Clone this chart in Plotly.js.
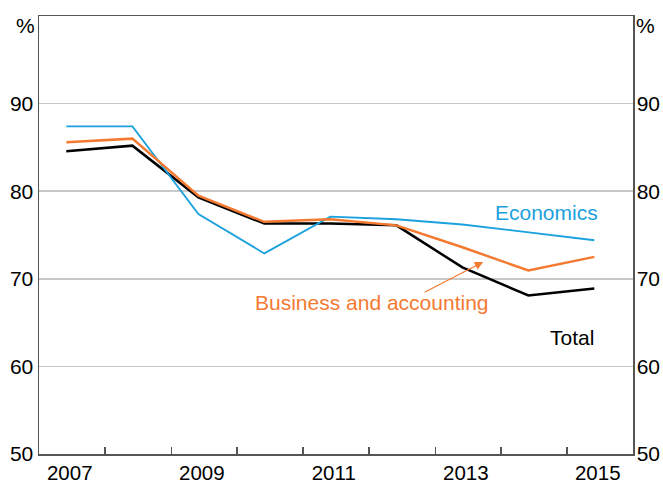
<!DOCTYPE html>
<html>
<head>
<meta charset="utf-8">
<script src="https://cdn.plot.ly/plotly-3.0.1.min.js"></script>
<style>html,body{margin:0;padding:0;background:#fff;}#chart{width:663px;height:485px;}</style>
</head>
<body>
<div id="chart"></div>
<script>
// Data (observations dated mid-year)
var dates = ['2007-06-01','2008-06-01','2009-06-01','2010-06-01','2011-06-01','2012-06-01','2013-06-01','2014-06-01','2015-06-01'];
var economics = [87.4, 87.4, 77.4, 72.9, 77.1, 76.8, 76.2, 75.3, 74.4];
var business = [85.6, 86.0, 79.5, 76.5, 76.8, 76.1, 73.6, 70.95, 72.5];
var total = [84.55, 85.2, 79.3, 76.3, 76.3, 76.1, 71.3, 68.1, 68.9];

var yearLabels = ['2007','2009','2011','2013','2015'];
var yearLabelPos = ['2007-06-20','2009-06-20','2011-06-20','2013-06-20','2015-06-20'];
var yearBoundaries = ['2008-01-01','2009-01-01','2010-01-01','2011-01-01','2012-01-01','2013-01-01','2014-01-01','2015-01-01'];
var yTicks = [50, 60, 70, 80, 90];

var FONT = 'Liberation Sans, Arial, sans-serif';
var FS = 21;
var BLUE = '#1ba1dd';
var ORANGE = '#f47a32';

var traces = [
  {x: dates, y: total, type: 'scatter', mode: 'lines', line: {color: '#000000', width: 2.5}, hoverinfo: 'skip'},
  {x: dates, y: economics, type: 'scatter', mode: 'lines', line: {color: BLUE, width: 1.8}, hoverinfo: 'skip'},
  {x: dates, y: business, type: 'scatter', mode: 'lines', line: {color: ORANGE, width: 2.5}, hoverinfo: 'skip'},
  {x: dates, y: total, type: 'scatter', mode: 'lines', yaxis: 'y2', opacity: 0, line: {width: 0}, hoverinfo: 'skip'}
];

var layout = {
  width: 663, height: 485,
  margin: {l: 38.5, r: 30, t: 16, b: 31},
  paper_bgcolor: '#ffffff', plot_bgcolor: '#ffffff',
  showlegend: false,
  font: {family: FONT, size: FS, color: '#000'},
  xaxis: {
    type: 'date',
    range: ['2007-01-01', '2016-01-01'],
    tickmode: 'array', tickvals: yearLabelPos, ticktext: yearLabels,
    ticks: '', showgrid: false, zeroline: false, ticklabelstandoff: 0,
    showline: true, linecolor: '#555', linewidth: 1.5, mirror: true,
    tickfont: {family: FONT, size: 20.5, color: '#000'},
    minor: {tickmode: 'array', tickvals: yearBoundaries, ticks: 'inside', ticklen: 7, tickcolor: '#555', tickwidth: 1.2, showgrid: false}
  },
  yaxis: {
    range: [50, 100], tickmode: 'array', tickvals: yTicks,
    ticks: '', showgrid: true, gridcolor: '#c8c8c8', gridwidth: 1.5, zeroline: false,
    showline: true, linecolor: '#555', linewidth: 1.5,
    tickfont: {family: FONT, size: FS, color: '#000'}
  },
  yaxis2: {
    overlaying: 'y', side: 'right',
    range: [50, 100], tickmode: 'array', tickvals: yTicks,
    ticks: '', showgrid: false, zeroline: false, ticklabelstandoff: -2,
    showline: true, linecolor: '#555', linewidth: 1.5,
    tickfont: {family: FONT, size: FS, color: '#000'}
  },
  annotations: [
    {xref: 'paper', yref: 'y', x: 0, y: 98.9, xanchor: 'right', yanchor: 'middle', xshift: -2, text: '%', showarrow: false, font: {family: FONT, size: FS, color: '#000'}},
    {xref: 'paper', yref: 'y', x: 1, y: 98.9, xanchor: 'left', yanchor: 'middle', xshift: 1, text: '%', showarrow: false, font: {family: FONT, size: FS, color: '#000'}},
    {xref: 'paper', yref: 'paper', x: 0.855, y: 0.5525, xanchor: 'center', yanchor: 'middle', text: 'Economics', showarrow: false, font: {family: FONT, size: FS, color: BLUE}},
    {xref: 'paper', yref: 'paper', x: 0.561, y: 0.347, xanchor: 'center', yanchor: 'middle', text: 'Business and accounting', showarrow: false, font: {family: FONT, size: FS, color: ORANGE}},
    {xref: 'paper', yref: 'paper', x: 0.897, y: 0.267, xanchor: 'center', yanchor: 'middle', text: 'Total', showarrow: false, font: {family: FONT, size: FS, color: '#000'}},
    {xref: 'paper', yref: 'paper', x: 0.7477, y: 0.4384, text: '', showarrow: true, ax: -60, ay: 31, arrowhead: 2, arrowsize: 1.4, arrowwidth: 1.2, arrowcolor: ORANGE, standoff: 0}
  ]
};

Plotly.newPlot('chart', traces, layout, {displayModeBar: false, staticPlot: true});
</script>
</body>
</html>
